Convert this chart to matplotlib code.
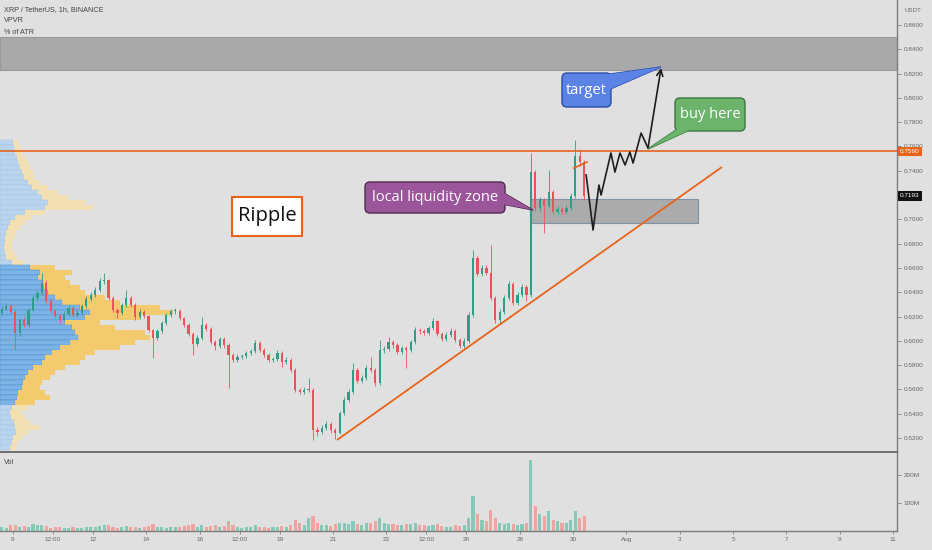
import numpy as np
import matplotlib
matplotlib.use('Agg')
import matplotlib.pyplot as plt
from matplotlib.patches import Rectangle, FancyBboxPatch, Polygon
from matplotlib.transforms import blended_transform_factory

plt.rcParams['font.family'] = ['Liberation Sans', 'DejaVu Sans']

# ---------------- data ----------------
t0 = 8.5            # start of first 4h candle (day of July)
bar_days = 4 / 24   # candle length in days

opens = [.6230,.6262,.6286,.6237,.6064,.6171,.6130,.6253,.6352,.6393,
         .6476,.6328,.6245,.6204,.6171,.6221,.6270,.6212,.6229,.6286,
         .6344,.6377,.6418,.6492,.6500,.6352,.6253,.6229,.6295,.6352,
         .6295,.6196,.6237,.6204,.6089,.6023,.6081,.6146,.6212,.6245,
         .6245,.6188,.6130,.6056,.5974,.6023,.6130,.6097,.5990,.5957,
         .6015,.5965,.5883,.5842,.5867,.5875,.5900,.5916,.5982,.5924,
         .5883,.5842,.5850,.5900,.5825,.5842,.5760,.5595,.5579,.5595,
         .5595,.5266,.5249,.5282,.5315,.5266,.5241,.5406,.5513,.5579,
         .5760,.5669,.5694,.5776,.5760,.5653,.5924,.5932,.5990,.5965,
         .5908,.5941,.5924,.5990,.6089,.6081,.6064,.6105,.6163,.6056,
         .6015,.6048,.6081,.6007,.5957,.5998,.6212,.6681,.6550,.6599,
         .6558,.6352,.6171,.6237,.6352,.6467,.6311,.6377,.6443,.6377,
         .7389,.7093,.7159,.7109,.7225,.7060,.7085,.7060,.7093,.7192,
         .7521,.7471]
closes = [.6262,.6286,.6237,.6064,.6171,.6130,.6253,.6352,.6393,.6476,
          .6328,.6245,.6204,.6171,.6221,.6270,.6212,.6229,.6286,.6344,
          .6377,.6418,.6492,.6500,.6352,.6253,.6229,.6295,.6352,.6295,
          .6196,.6237,.6204,.6089,.6023,.6081,.6146,.6212,.6245,.6245,
          .6188,.6130,.6056,.5974,.6023,.6130,.6097,.5990,.5957,.6015,
          .5965,.5883,.5842,.5867,.5875,.5900,.5916,.5982,.5924,.5883,
          .5842,.5850,.5900,.5825,.5842,.5760,.5595,.5579,.5595,.5595,
          .5266,.5249,.5282,.5315,.5266,.5241,.5406,.5513,.5579,.5760,
          .5669,.5694,.5776,.5760,.5653,.5924,.5932,.5990,.5965,.5908,
          .5941,.5924,.5990,.6089,.6081,.6064,.6105,.6163,.6056,.6015,
          .6048,.6081,.6007,.5957,.5998,.6212,.6681,.6550,.6599,.6558,
          .6352,.6171,.6237,.6352,.6467,.6311,.6377,.6443,.6377,.7389,
          .7093,.7159,.7109,.7225,.7060,.7085,.7060,.7093,.7192,.7521,
          .7471,.7193]
highs = [.6290,.6310,.6300,.6250,.6190,.6200,.6270,.6380,.6420,.6558,
         .6500,.6345,.6265,.6225,.6245,.6295,.6285,.6250,.6305,.6365,
         .6400,.6440,.6515,.6558,.6510,.6370,.6270,.6315,.6418,.6370,
         .6310,.6260,.6255,.6215,.6100,.6100,.6165,.6230,.6265,.6270,
         .6260,.6200,.6145,.6070,.6045,.6196,.6150,.6110,.6010,.6035,
         .6030,.5980,.5900,.5890,.5895,.5920,.5935,.6007,.5995,.5940,
         .5900,.5870,.5924,.5915,.5865,.5860,.5775,.5615,.5620,.5694,
         .5610,.5290,.5305,.5340,.5330,.5285,.5425,.5535,.5600,.5817,
         .5780,.5715,.5800,.5867,.5780,.6007,.5960,.6031,.6010,.5980,
         .5960,.5960,.6010,.6110,.6105,.6100,.6125,.6188,.6175,.6070,
         .6070,.6105,.6095,.6020,.6020,.6240,.6747,.6700,.6625,.6620,
         .6788,.6370,.6260,.6375,.6490,.6480,.6400,.6465,.6460,.7546,
         .7410,.7180,.7175,.7406,.7240,.7110,.7105,.7115,.7215,.7653,
         .7580,.7490]
lows = [.6215,.6250,.6220,.5924,.6040,.6110,.6115,.6240,.6330,.6380,
        .6310,.6225,.6185,.6150,.6160,.6205,.6195,.6195,.6215,.6270,
        .6330,.6360,.6400,.6470,.6335,.6235,.6185,.6215,.6280,.6280,
        .6170,.6180,.6185,.6070,.5858,.6005,.6065,.6130,.6195,.6220,
        .6170,.6110,.6040,.5883,.5955,.6005,.6080,.5970,.5924,.5940,
        .5945,.5612,.5825,.5825,.5850,.5860,.5885,.5900,.5905,.5865,
        .5825,.5825,.5835,.5784,.5810,.5740,.5575,.5560,.5560,.5575,
        .5184,.5215,.5230,.5265,.5245,.5190,.5230,.5390,.5495,.5565,
        .5650,.5650,.5680,.5740,.5630,.5640,.5900,.5915,.5945,.5890,
        .5890,.5776,.5905,.5975,.6060,.6045,.6045,.6090,.6040,.5995,
        .6000,.6030,.5990,.5940,.5940,.5985,.6200,.6530,.6535,.6540,
        .6335,.6146,.6150,.6220,.6335,.6295,.6295,.6360,.6330,.6360,
        .7070,.7070,.6887,.7090,.7040,.7040,.7040,.7045,.7075,.7175,
        .7440,.7160]
volumes_m = [15,12,20,22,14,18,16,25,20,22,18,
             12,14,16,10,12,14,10,12,15,14,16,
             18,20,22,16,12,15,18,14,16,12,14,
             18,25,16,14,12,16,14,15,18,20,24,
             16,20,14,18,22,16,18,35,20,14,12,
             14,16,20,15,14,12,16,14,18,14,22,
             38,30,20,45,55,30,22,20,18,25,30,
             28,24,35,26,22,30,28,36,45,30,26,
             24,20,22,26,24,30,22,20,18,22,25,
             18,16,15,20,18,22,45,125,60,40,35,
             75,45,28,24,30,26,22,25,28,253,90,
             60,55,70,40,35,30,28,40,71,45,52]

# volume profile (visible range), top row first
vp_top = 0.7653
vp_step = 0.004115
vp_up = [13,14,15,17,18,20,22,24,28,32,38,42,48,45,25,15,10,8,6,5,5,4,5,6,12,
         30,40,38,42,44,48,55,62,80,90,85,65,72,75,78,70,60,52,45,42,33,28,25,23,
         22,18,17,15,12,10,11,14,15,16,13,12,10]
vp_down = [5,6,7,8,10,10,11,10,12,16,20,26,37,48,20,17,15,12,10,9,7,8,9,11,12,
           25,32,27,28,36,37,50,58,80,83,55,35,43,70,72,65,60,43,40,38,32,27,25,19,
           18,27,33,20,16,12,14,16,25,12,9,6,6]
vp_value_area = (25, 52)

# drawings
resistance_price = 0.7560
last_price = 0.7193
target_zone = (0.8229, 0.8500)
liq_zone_days = (28.39, 34.68)
liq_zone_prices = (0.6969, 0.7167)
trend_days = [21.15, 35.58]
trend_prices = [0.5184, 0.7430]
small_days = [30.03, 30.52]
small_prices = [0.7422, 0.7471]
zz_days = [30.49, 30.75, 30.97, 31.05, 31.42, 31.57, 31.76, 31.95, 32.13, 32.25, 32.55, 32.81]
zz_prices = [0.7365, 0.6912, 0.7282, 0.7200, 0.7546, 0.7389, 0.7546, 0.7447, 0.7554, 0.7463, 0.7710, 0.7587]
arrow_target = (33.30, 0.8245)

# 0.72 is hidden behind the last-price label in the original
price_ticks = [0.52,0.54,0.56,0.58,0.60,0.62,0.64,0.66,0.68,0.70,0.74,0.76,0.78,0.80,0.82,0.84,0.86]
vol_ticks = [100, 200]
x_tick_pos = [9, 10.5, 12, 14, 16, 17.5, 19, 21, 23, 24.5, 26, 28, 30, 32, 34, 36, 38, 40, 42]
x_tick_labels = ['9','12:00','12','14','16','12:00','19','21','23','12:00','26','28','30',
                 'Aug','3','5','7','9','11']

# ---------------- styling ----------------
BG = '#e0e0e0'
UP = '#2e9e86'
DN = '#e8545a'
ORANGE = '#e8631a'
AX = '#7d7d7d'
TXT = '#666666'

W, H = 932, 550
fig = plt.figure(figsize=(W/100, H/100), dpi=100, facecolor=BG)

pane_w = 897
ax = fig.add_axes([0, (H-452)/H, pane_w/W, 452/H], facecolor=BG)
axv = fig.add_axes([0, (H-531)/H, pane_w/W, 79/H], facecolor=BG, sharex=ax)

xmin, xmax = 8.5126, 42.146
ax.set_xlim(xmin, xmax)
ax.set_ylim(0.5085, 0.8805)
axv.set_ylim(0, 282)

n = len(closes)
xs = np.array([t0 + (i + 0.5) * bar_days for i in range(n)])
o = np.array(opens); c = np.array(closes); h = np.array(highs); l = np.array(lows)
up = c >= o
cols = np.where(up, UP, DN)

# volume profile on left
tb = blended_transform_factory(ax.transAxes, ax.transData)
for k in range(len(vp_up)):
    yc = vp_top - (k + 0.5) * vp_step
    inside = vp_value_area[0] <= k <= vp_value_area[1]
    bcol = '#7db4e6' if inside else '#b9d4ee'
    ycol = '#f3ca6e' if inside else '#f2dfb2'
    ecol = '#4f8fcf' if inside else '#a6c4e2'
    bu = vp_up[k] / pane_w
    bd = vp_down[k] / pane_w
    ax.add_patch(Rectangle((0, yc - vp_step/2), bu, vp_step, transform=tb,
                           facecolor=bcol, edgecolor=ecol, lw=0.35, zorder=1))
    ax.add_patch(Rectangle((bu, yc - vp_step/2), bd, vp_step, transform=tb,
                           facecolor=ycol, edgecolor='none', lw=0, zorder=1))

# zones
ax.axhspan(target_zone[0], target_zone[1], facecolor='#a9a9a9', edgecolor='#9a9a9a', lw=0.8, zorder=1.5)
ax.add_patch(Rectangle((liq_zone_days[0], liq_zone_prices[0]),
                       liq_zone_days[1]-liq_zone_days[0], liq_zone_prices[1]-liq_zone_prices[0],
                       facecolor='#ababab', edgecolor='#8390aa', lw=0.8, zorder=2))

# candles
ax.vlines(xs, l, h, colors=cols, lw=0.6, zorder=3)
body = np.maximum(np.abs(c - o), 0.0006)
ax.bar(xs, body, bottom=np.minimum(o, c), width=bar_days*0.5, color=cols, lw=0, zorder=3.5)

# lines
ax.axhline(resistance_price, color=ORANGE, lw=1.2, zorder=4)
ax.plot(trend_days, trend_prices, color=ORANGE, lw=1.3, zorder=4, solid_capstyle='butt')
ax.plot(small_days, small_prices, color=ORANGE, lw=1.2, zorder=4)
ax.plot(zz_days, zz_prices, color='#1e1e1e', lw=1.2, zorder=5)
ax.annotate('', xy=arrow_target, xytext=(zz_days[-1], zz_prices[-1]),
            arrowprops=dict(arrowstyle='->', color='#1e1e1e', lw=1.2, mutation_scale=11,
                            shrinkA=0, shrinkB=0), zorder=5)

# price axis
for a in (ax, axv):
    for s in ('left', 'top', 'bottom'):
        a.spines[s].set_visible(False)
    a.spines['right'].set_color(AX)
    a.spines['right'].set_linewidth(1.0)
    a.yaxis.tick_right()
    a.tick_params(axis='y', direction='out', length=3, width=0.6, color=AX,
                  labelsize=4.6, labelcolor=TXT, pad=2)
ax.set_yticks(price_ticks)
ax.set_yticklabels(['%.4f' % p for p in price_ticks])
ax.tick_params(axis='x', which='both', bottom=False, labelbottom=False)

axv.spines['top'].set_visible(True)
axv.spines['top'].set_color('#6f6f6f')
axv.spines['top'].set_linewidth(1.4)
axv.spines['bottom'].set_visible(True)
axv.spines['bottom'].set_color(AX)
axv.spines['bottom'].set_linewidth(1.0)
axv.set_yticks(vol_ticks)
axv.set_yticklabels(['%dM' % v for v in vol_ticks])
axv.set_xticks(x_tick_pos)
axv.set_xticklabels(x_tick_labels)
axv.tick_params(axis='x', direction='out', length=2.5, width=0.6, color=AX,
                labelsize=4.6, labelcolor=TXT, pad=2)
axv.set_xlim(xmin, xmax)

# volume bars
axv.bar(xs, volumes_m, width=bar_days*0.7, color=np.where(up, '#86c9b8', '#f0a4a0'), lw=0, zorder=2)

# axis price labels
ax.text(1.0035, resistance_price, '%.4f' % resistance_price, transform=tb, ha='left', va='center',
        fontsize=4.6, color='white', zorder=10, clip_on=False,
        bbox=dict(boxstyle='square,pad=0.35', facecolor=ORANGE, edgecolor='none'))
ax.text(1.0035, last_price, '%.4f' % last_price, transform=tb, ha='left', va='center',
        fontsize=4.6, color='white', zorder=10, clip_on=False,
        bbox=dict(boxstyle='square,pad=0.35', facecolor='#111111', edgecolor='none'))

# ---------------- overlay (pixel space) for text callouts ----------------
ov = fig.add_axes([0, 0, 1, 1], facecolor='none')
ov.set_xlim(0, W); ov.set_ylim(H, 0); ov.axis('off')

ov.text(4, 10, 'XRP / TetherUS, 1h, BINANCE', fontsize=5.2, color='#444444', va='center')
ov.text(4, 21, 'VPVR', fontsize=5.2, color='#444444', va='center')
ov.text(4, 32, '% of ATR', fontsize=5.2, color='#444444', va='center')
ov.text(4, 463, 'Vol', fontsize=5.2, color='#444444', va='center')
ov.text(913, 10, 'USDT', fontsize=4.4, color=TXT, va='center', ha='center')

CF = ['Open Sans', 'DejaVu Sans']

def callout(x, y, w, h, face, edge, label, pointer, fs, tcolor='white'):
    ov.add_patch(Polygon(pointer, closed=True, facecolor=face, edgecolor=edge, lw=1.0, zorder=20))
    ov.add_patch(FancyBboxPatch((x, y), w, h, boxstyle='round,pad=0,rounding_size=5',
                                facecolor=face, edgecolor=edge, lw=1.0, zorder=21))
    ov.add_patch(Polygon(pointer, closed=True, facecolor=face, edgecolor='none', zorder=22))
    ov.text(x + w/2, y + h/2, label, ha='center', va='center', fontsize=fs, color=tcolor,
            family=CF, zorder=23)

# Ripple box
ov.add_patch(Rectangle((232, 197), 70, 39, facecolor='white', edgecolor=ORANGE, lw=1.5, zorder=20))
ov.text(267, 216.5, 'Ripple', ha='center', va='center', fontsize=14.5, color='#111111', family=CF, zorder=21)

callout(365, 182, 140, 31, '#9b559b', '#4e2a4e', 'local liquidity zone',
        [(502, 192), (533, 210), (502, 204)], 10.5)
callout(562, 73, 49, 34, '#5b83e6', '#2c4ca8', 'target',
        [(596, 76), (661, 67), (608, 90)], 10.5)
callout(675, 98, 70, 33, '#6cb36c', '#3a773a', 'buy here',
        [(679, 128), (648, 149), (694, 128)], 10.5)

fig.savefig('out.png', dpi=100, facecolor=BG)
